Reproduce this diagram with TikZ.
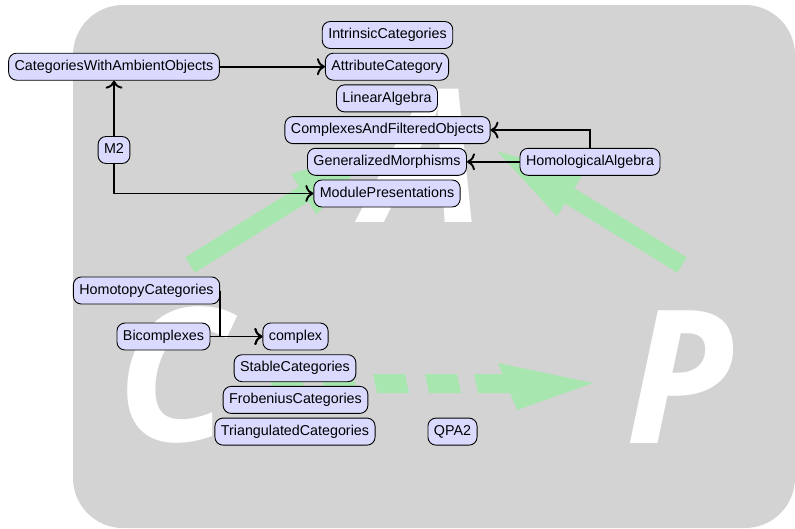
\documentclass[tikz,border=0pt]{standalone}
\usepackage{fontspec}
\setmainfont{Liberation Sans}
\newfontfamily\bigfont{Open Sans}
\usetikzlibrary{arrows.meta}
\definecolor{panel}{HTML}{D3D3D3}
\definecolor{pkgfill}{HTML}{DADAFF}
\definecolor{flow}{HTML}{A8E6B0}

\begin{document}
\begin{tikzpicture}[x=1pt,y=-1pt,
  pkg/.style={draw=black, line width=0.9pt, fill=pkgfill, rounded corners=8pt,
    inner xsep=6pt, inner ysep=0pt, minimum height=27pt,
    text height=10.3pt, text depth=3pt, font=\fontsize{14.3}{17}\selectfont},
  dep/.style={line width=1.9pt, -{To[length=8pt,width=17pt]}},
  bigletter/.style={text=white, inner sep=0pt, anchor=base,
    font=\bigfont\bfseries\itshape\fontsize{186}{186}\selectfont}
]
\useasboundingbox (0,0) rectangle (795,528);

% background panel
\fill[panel, rounded corners=50pt] (73,5) rectangle (795,528);

% large letters
\node[bigletter] (letterC) at (173,441) {C};
\node[bigletter] (letterA) at (425,222) {A};
\node[bigletter] (letterP) at (679,443) {P};

% broad flow arrows
\coordinate (caTail) at (190,265);
\coordinate (paTail) at (682,265);
\begin{scope}[shift={(caTail)}, rotate=31.9]
  \fill[flow] (0,-9) -- (134,-9) -- (134,-24) -- (219,0) -- (134,24) -- (134,9) -- (0,9) -- cycle;
\end{scope}
\begin{scope}[shift={(paTail)}, rotate=148.4]
  \fill[flow] (0,-9) -- (132,-9) -- (132,-24) -- (217,0) -- (132,24) -- (132,9) -- (0,9) -- cycle;
\end{scope}
% dashed flow arrow
\foreach \a in {269,321,373,425}
  \fill[flow] (\a,374) -- (\a+32,374) -- (\a+36,393) -- (\a+4,393) -- cycle;
\fill[flow] (474,374) -- (502.4,374) -- (498,363) -- (593,383) -- (517,410)
  -- (510.1,393) -- (478,393) -- cycle;

% packages
\node[pkg] (intr)    at (387.5,35)   {IntrinsicCategories};
\node[pkg] (attr)    at (387,66.7)   {AttributeCategory};
\node[pkg] (cwao)    at (114,66.7)   {CategoriesWithAmbientObjects};
\node[pkg] (linalg)  at (387,98.4)   {LinearAlgebra};
\node[pkg] (cafo)    at (387.5,130.1){ComplexesAndFilteredObjects};
\node[pkg] (genmor)  at (387,161.8)  {GeneralizedMorphisms};
\node[pkg] (modpres) at (387,193.5)  {ModulePresentations};
\node[pkg] (m2)      at (114,150)    {M2};
\node[pkg] (homalg)  at (590,161.8)  {HomologicalAlgebra};
\node[pkg] (homcat)  at (146.5,290.5){HomotopyCategories};
\node[pkg] (bicomp)  at (163.5,336.5){Bicomplexes};
\node[pkg] (complex) at (295.5,336.5){complex};
\node[pkg] (stable)  at (295,368.2)  {StableCategories};
\node[pkg] (frob)    at (295.5,399.9){FrobeniusCategories};
\node[pkg] (tri)     at (295,431.6)  {TriangulatedCategories};
\node[pkg] (qpa)     at (452.5,431.6){QPA2};

% dependencies
\draw[dep] (cwao) -- (attr);
\draw[dep] (m2) -- (cwao);
\draw[dep] (m2) |- (modpres);
\draw[dep] (homalg) |- (cafo);
\draw[dep] (homalg) -- (genmor);
\draw[dep] (homcat.east) |- (complex);
\draw[dep] (bicomp) -- (complex);
\end{tikzpicture}
\end{document}
